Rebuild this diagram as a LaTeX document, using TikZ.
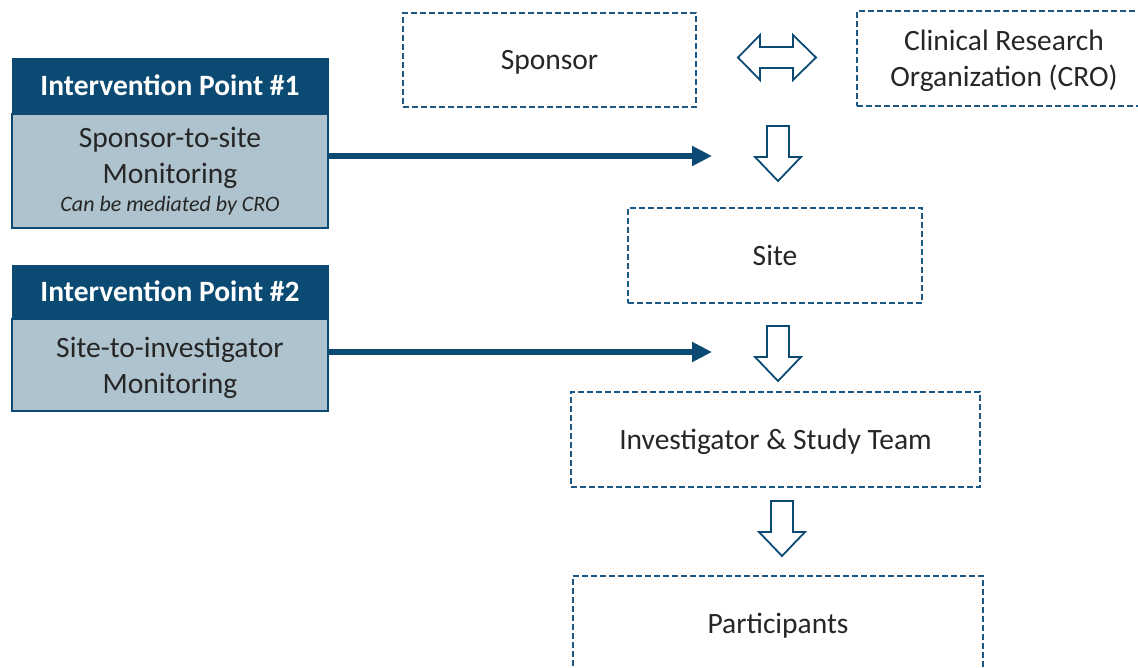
\documentclass[tikz,border=0pt]{standalone}
\usepackage{fontspec}
\setmainfont{Carlito}
\usepackage{xcolor}
\definecolor{ipBlue}{HTML}{0B4A73}
\definecolor{ipGrey}{HTML}{AEC3CD}
\definecolor{boxLine}{HTML}{1D5783}
\definecolor{txtGrey}{HTML}{262626}
\usepackage{tikz}
\usetikzlibrary{arrows.meta}
\tikzset{
    stagebox/.style={draw=boxLine, line width=1.8pt, dash pattern=on 6pt off 3pt,
      minimum width=294pt, minimum height=95pt, inner sep=0pt, align=center,
      text depth=0pt, text=txtGrey, font=\fontsize{29.5}{36}\selectfont},
    iphead/.style={fill=ipBlue, draw=ipBlue, minimum width=316pt, inner sep=0pt,
      text depth=0pt, text=white, font=\bfseries\fontsize{29.5}{36}\selectfont},
    ipbody/.style={fill=ipGrey, draw=ipBlue, line width=2pt, minimum width=316pt,
      inner sep=0pt, align=center, text=txtGrey, font=\fontsize{29.5}{36}\selectfont},
    linkArrow/.style={draw=ipBlue, line width=5.5pt, -{Triangle[length=20pt,width=19pt]}},
    hollow/.style={draw=ipBlue, line width=1.8pt, fill=white, line join=miter},
    downblock/.pic={
      \path[hollow] (-11,0) -- (11,0) -- (11,31) -- (23,31) -- (0,55)
        -- (-23,31) -- (-11,31) -- cycle;
    },
    twoway/.pic={
      \path[hollow] (-39,0) -- (-17,-22.5) -- (-17,-10.5) -- (16,-10.5) -- (16,-22.5)
        -- (39,0) -- (16,22.5) -- (16,10.5) -- (-17,10.5) -- (-17,22.5) -- cycle;
    }
}

\begin{document}
\begin{tikzpicture}[x=1pt, y=-1pt]
  % Frame
  \path[use as bounding box] (0,0) rectangle (1138,668);

  % Chain of parties
  \node[stagebox, minimum width=293pt, minimum height=94pt] (sponsor) at (549.5,60) {Sponsor};
  \node[stagebox] (cro) at (1004,58.5) {Clinical Research\\Organization (CRO)};
  \node[stagebox] (site) at (775,255.5) {Site};
  \node[stagebox, minimum width=409pt] (team) at (775.5,439.5) {Investigator \& Study Team};
  \node[stagebox, minimum width=410pt] (parts) at (778,623.5) {Participants};

  % Block arrows between the parties
  \pic at (777,57.5) {twoway};
  \pic at (778,126) {downblock};
  \pic at (778,326) {downblock};
  \pic at (782,501) {downblock};

  % Intervention point #1
  \node[iphead, minimum height=55pt] (ip1head) at (170,85.5) {Intervention Point \#1};
  \node[ipbody, minimum height=114pt, anchor=north] (ip1body) at (ip1head.south)
    {Sponsor-to-site\\Monitoring\\[-8pt]{\fontsize{22}{26}\selectfont\itshape Can be mediated by CRO}};

  % Intervention point #2
  \node[iphead, minimum height=53pt] (ip2head) at (170,291.5) {Intervention Point \#2};
  \node[ipbody, text depth=0pt, minimum height=92pt, anchor=north] (ip2body) at (ip2head.south)
    {Site-to-investigator\\Monitoring};

  % Links to the chain
  \coordinate (t1) at (712,156);
  \coordinate (t2) at (712,352);
  \draw[linkArrow] (ip1body.east |- t1) -- (t1);
  \draw[linkArrow] (ip2body.east |- t2) -- (t2);

\end{tikzpicture}
\end{document}
